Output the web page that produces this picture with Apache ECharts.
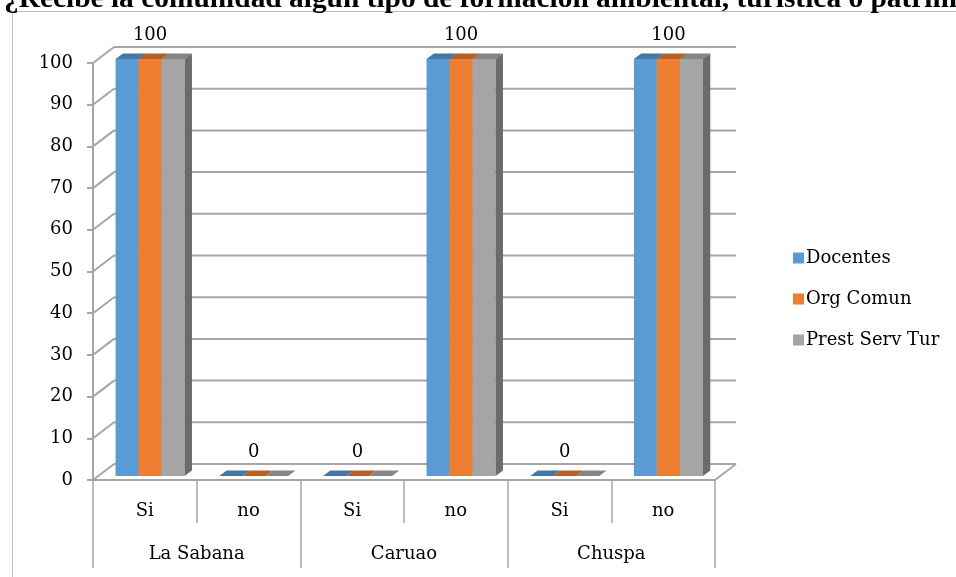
<!DOCTYPE html>
<html><head><meta charset="utf-8">
<script src="https://cdn.jsdelivr.net/npm/echarts@6/dist/echarts.min.js"></script>
<style>html,body{margin:0;padding:0;background:#fff}#c{width:956px;height:577px}</style>
</head><body><div id="c"></div>
<script>
const titleText = '¿Recibe la comunidad algún tipo de formación ambiental, turística o patrimonial?';
const categories = ['Si', 'no', 'Si', 'no', 'Si', 'no'];
const groups = ['La Sabana', 'Caruao', 'Chuspa'];
const seriesNames = ['Docentes', 'Org Comun', 'Prest Serv Tur'];
const docentes = [100, 0, 0, 100, 0, 100];
const orgComun = [100, 0, 0, 100, 0, 100];
const prestServTur = [100, 0, 0, 100, 0, 100];
const yTicks = [0, 10, 20, 30, 40, 50, 60, 70, 80, 90, 100];

const FONT = '"DejaVu Serif", "Liberation Serif", serif';
const TITLE_FONT = '"Liberation Serif", "Times New Roman", serif';
const FS = 18;
const colors = ['#5b9bd5', '#ed7d31', '#a5a5a5'];
const topColors = ['#4277a8', '#b95f22', '#858585'];
const sideColor = '#6b6b6b';
const gridColor = '#a6a6a6';
const DX = 21, DY = -16;          // wall depth
const F0 = 0.25, F1 = 0.35;       // bar front position, bar depth (fraction of depth)

const chart = echarts.init(document.getElementById('c'), null, {renderer: 'canvas'});

function wallItem(params, api) {
  const cs = params.coordSys;
  const v = api.value(1);
  const y = api.coord([0, v])[1];
  const x0 = cs.x, x1 = cs.x + cs.width;
  const ls = {stroke: gridColor, lineWidth: 2};
  const children = [
    {type: 'line', shape: {x1: x0, y1: y, x2: x0 + DX, y2: y + DY}, style: ls},
    {type: 'line', shape: {x1: x0 + DX, y1: y + DY, x2: x1 + DX, y2: y + DY}, style: ls}
  ];
  if (v === 0) {
    children.push({type: 'line', shape: {x1: x1, y1: y, x2: x1 + DX, y2: y + DY}, style: ls});
  }
  return {type: 'group', children};
}

function barRenderer(sIdx, withLabel) {
  return function (params, api) {
    const i = api.value(0), v = api.value(1);
    const c0 = api.coord([i, 0]);
    const c1 = api.coord([i, v]);
    const band = api.size([1, 0])[0];
    const bw = band * 0.222;
    const sx = F0 * DX, sy = F0 * DY;
    const ddx = F1 * DX, ddy = F1 * DY;
    const x = c0[0] - 1.5 * bw + sx + sIdx * bw;
    const top = c1[1] + sy, bot = c0[1] + sy;
    const children = [
      {type: 'rect', shape: {x: x, y: top, width: bw, height: bot - top}, style: {fill: colors[sIdx]}},
      {type: 'polygon', shape: {points: [[x, top], [x + bw, top], [x + bw + ddx, top + ddy], [x + ddx, top + ddy]]}, style: {fill: topColors[sIdx]}},
      {type: 'polygon', shape: {points: [[x + bw, top], [x + bw + ddx, top + ddy], [x + bw + ddx, bot + ddy], [x + bw, bot]]}, style: {fill: sideColor}}
    ];
    if (withLabel) {
      children.push({type: 'text', style: {text: String(v), x: x + bw / 2, y: top + ddy - 18, align: 'center', verticalAlign: 'middle', font: FS + 'px ' + FONT, fill: '#000'}});
    }
    return {type: 'group', children};
  };
}

const dataSets = [docentes, orgComun, prestServTur];

const option = {
  animation: false,
  backgroundColor: '#fff',
  graphic: [
    {type: 'rect', z: 0, shape: {x: 12.5, y: 11.5, width: 1000, height: 700}, style: {fill: 'none', stroke: '#bfbfbf', lineWidth: 1}},
    {type: 'text', z: 10, x: 4, y: 0, scaleX: 1.05, style: {text: titleText, x: 0, y: 0, verticalAlign: 'middle', font: 'bold 28px ' + TITLE_FONT, fill: '#000'}}
  ],
  legend: {
    data: seriesNames,
    orient: 'vertical',
    left: 788,
    top: 244,
    itemWidth: 11,
    itemHeight: 11,
    itemGap: 23,
    icon: 'rect',
    textStyle: {fontFamily: FONT, fontSize: FS, color: '#000', padding: [0, 0, 0, -3]}
  },
  grid: {left: 93, right: 241, top: 63, bottom: 97},
  xAxis: [
    {
      type: 'category', data: categories, position: 'bottom',
      axisLine: {show: true, lineStyle: {color: gridColor, width: 2}},
      axisTick: {show: true, length: 43, lineStyle: {color: gridColor, width: 1.5}},
      axisLabel: {margin: 22, fontFamily: FONT, fontSize: FS, color: '#000'},
      splitLine: {show: false}
    },
    {
      type: 'category', data: groups, position: 'bottom', gridIndex: 0,
      axisLine: {show: false},
      axisTick: {show: true, length: 88, lineStyle: {color: gridColor, width: 1.5}},
      axisLabel: {margin: 65, fontFamily: FONT, fontSize: FS, color: '#000'},
      splitLine: {show: false}
    }
  ],
  yAxis: {
    type: 'value', min: 0, max: 100, interval: 10,
    axisLine: {show: true, lineStyle: {color: gridColor, width: 2}},
    axisTick: {show: true, length: 6, lineStyle: {color: gridColor, width: 2}},
    axisLabel: {margin: 20, fontFamily: FONT, fontSize: FS, color: '#000'},
    splitLine: {show: false}
  },
  series: [
    {
      type: 'custom', name: 'walls', xAxisIndex: 0, yAxisIndex: 0, z: 1, silent: true,
      renderItem: wallItem,
      data: yTicks.map(v => [0, v])
    }
  ].concat(seriesNames.map((name, s) => ({
    type: 'custom', name: name, xAxisIndex: 0, yAxisIndex: 0, z: 3 + s,
    itemStyle: {color: colors[s]},
    renderItem: barRenderer(s, s === 1),
    data: dataSets[s].map((v, i) => [i, v])
  })))
};
chart.setOption(option);
</script>
</body></html>
